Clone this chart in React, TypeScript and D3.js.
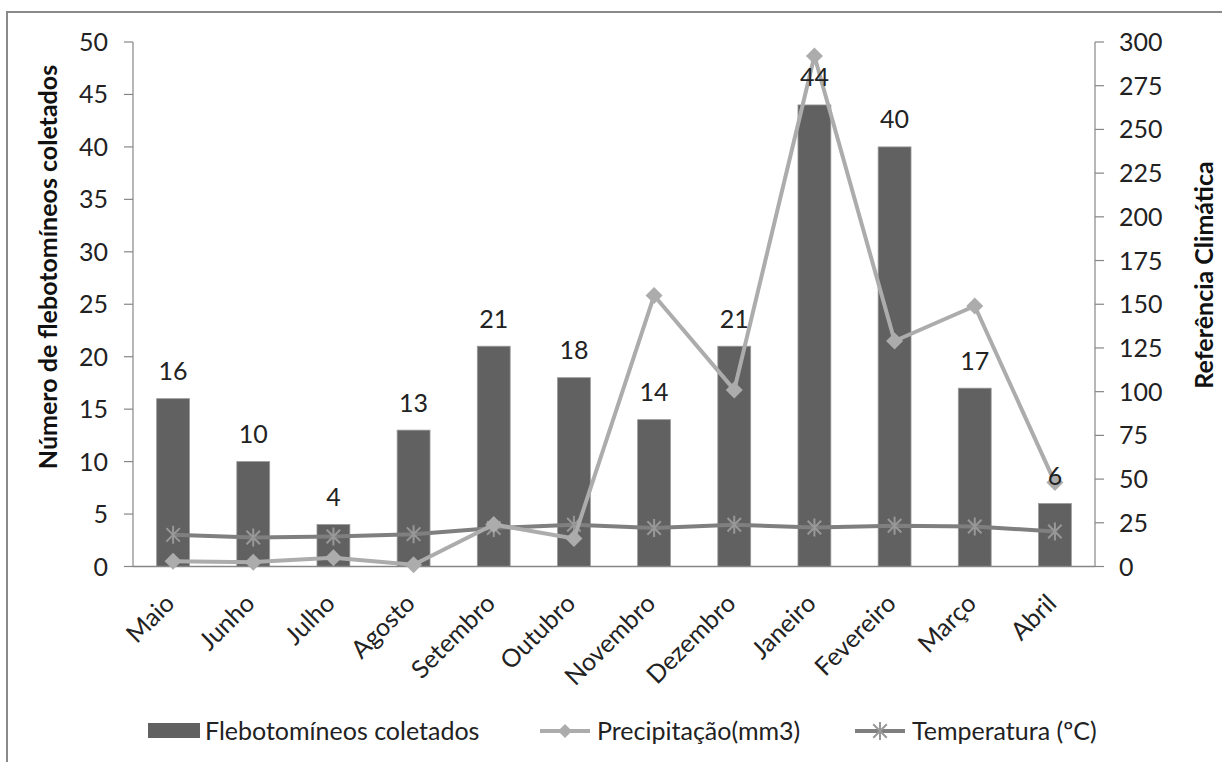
import React from "react";
import * as d3 from "d3";

const months = ["Maio","Junho","Julho","Agosto","Setembro","Outubro","Novembro","Dezembro","Janeiro","Fevereiro","Março","Abril"];
const flebotomineos = [16,10,4,13,21,18,14,21,44,40,17,6];
const precipitacao = [3,2.5,5,1,24,16,155,101,292,129,149,48];
const temperatura = [18.1,16.6,17.2,18.5,22,23.9,22,23.9,22.3,23.3,22.9,20];
const leftTicks = [0,5,10,15,20,25,30,35,40,45,50];
const rightTicks = [0,25,50,75,100,125,150,175,200,225,250,275,300];

const FONT = "Lato, 'Open Sans', sans-serif";
const FS = 25;
const BAR = "#616161";
const PREC = "#acacac";
const TEMP = "#7f7f7f";
const AXIS = "#868686";

const L = 133, R = 1095, T = 42, B = 566.5;

function diamond(cx: number, cy: number, r: number) {
  return `M${cx},${cy - r}L${cx + r},${cy}L${cx},${cy + r}L${cx - r},${cy}Z`;
}
function star(cx: number, cy: number, r: number) {
  const d = r * 0.75;
  return `M${cx},${cy - r}L${cx},${cy + r}M${cx - d},${cy - d}L${cx + d},${cy + d}M${cx - d},${cy + d}L${cx + d},${cy - d}`;
}

export default function App() {
  const x = d3.scaleBand<string>().domain(months).range([L, R]).paddingInner(0.59).paddingOuter(0.295);
  const xc = (m: string) => (x(m) as number) + x.bandwidth() / 2;
  const yL = d3.scaleLinear().domain([0, 50]).range([B, T]);
  const yR = d3.scaleLinear().domain([0, 300]).range([B, T]);

  const precLine = d3.line<number>().x((_, i) => xc(months[i])).y((d) => yR(d))(precipitacao) as string;
  const tempLine = d3.line<number>().x((_, i) => xc(months[i])).y((d) => yR(d))(temperatura) as string;

  return (
    <svg width={1222} height={762} style={{ position: "absolute", left: 0, top: 0, background: "#fff" }} fontFamily={FONT}>
      <rect x={0} y={0} width={1222} height={762} fill="#fff" />
      <rect x={7} y={12} width={1230} height={800} fill="none" stroke="#8a8a8a" strokeWidth={2} />

      {/* bars */}
      {months.map((m, i) => (
        <rect key={m} x={x(m)} y={yL(flebotomineos[i])} width={x.bandwidth()} height={B - yL(flebotomineos[i])}
          fill={BAR} stroke="#9a9a9a" strokeWidth={0.8} />
      ))}

      {/* axes */}
      <line x1={L} x2={L} y1={T} y2={B} stroke={AXIS} strokeWidth={1.2} />
      <line x1={R} x2={R} y1={T} y2={B} stroke={AXIS} strokeWidth={1.2} />
      <line x1={L} x2={R} y1={B} y2={B} stroke={AXIS} strokeWidth={1.5} />
      {leftTicks.map((t) => (
        <g key={"l" + t}>
          <line x1={L - 9} x2={L} y1={yL(t)} y2={yL(t)} stroke={AXIS} strokeWidth={1.2} />
          <text x={108} y={yL(t)} dy="0.36em" textAnchor="end" fontSize={FS} fill="#222">{t}</text>
        </g>
      ))}
      {rightTicks.map((t) => (
        <g key={"r" + t}>
          <line x1={R} x2={R + 9} y1={yR(t)} y2={yR(t)} stroke={AXIS} strokeWidth={1.2} />
          <text x={1119} y={yR(t)} dy="0.36em" textAnchor="start" fontSize={FS} fill="#222">{t}</text>
        </g>
      ))}

      {/* lines */}
      <path d={tempLine} fill="none" stroke={TEMP} strokeWidth={4} strokeLinejoin="round" />
      {temperatura.map((v, i) => (
        <path key={"t" + i} d={star(xc(months[i]), yR(v), 9)} stroke="#989898" strokeWidth={2} fill="none" />
      ))}
      <path d={precLine} fill="none" stroke={PREC} strokeWidth={4} strokeLinejoin="round" />
      {precipitacao.map((v, i) => (
        <path key={"p" + i} d={diamond(xc(months[i]), yR(v), 8.5)} fill={PREC} />
      ))}

      {/* data labels */}
      {months.map((m, i) => (
        <text key={"d" + m} x={xc(m)} y={yL(flebotomineos[i]) - 18.5} textAnchor="middle" fontSize={FS} fill="#222">
          {flebotomineos[i]}
        </text>
      ))}

      {/* x labels */}
      {months.map((m) => (
        <text key={"x" + m} transform={`translate(${xc(m) + 3},${605}) rotate(-45)`} textAnchor="end" fontSize={FS} fill="#222">
          {m}
        </text>
      ))}

      {/* axis titles */}
      <text transform={`translate(57,267) rotate(-90)`} textAnchor="middle" fontSize={FS} fontWeight="bold" fill="#111">
        Número de flebotomíneos coletados
      </text>
      <text transform={`translate(1213,275) rotate(-90)`} textAnchor="middle" fontSize={FS} fontWeight="bold" fill="#111">
        Referência Climática
      </text>

      {/* legend */}
      <rect x={148} y={723} width={52} height={15} fill={BAR} />
      <text x={205} y={731} dy="0.36em" fontSize={FS} fill="#222">Flebotomíneos coletados</text>
      <line x1={540} x2={590} y1={731} y2={731} stroke={PREC} strokeWidth={4} />
      <path d={diamond(565, 731, 7)} fill={PREC} />
      <text x={597} y={731} dy="0.36em" fontSize={FS} fill="#222">Precipitação(mm3)</text>
      <line x1={855} x2={905} y1={731} y2={731} stroke={TEMP} strokeWidth={4} />
      <path d={star(880, 731, 9)} stroke="#989898" strokeWidth={2} fill="none" />
      <text x={912} y={731} dy="0.36em" fontSize={FS} fill="#222">Temperatura (ºC)</text>
    </svg>
  );
}
